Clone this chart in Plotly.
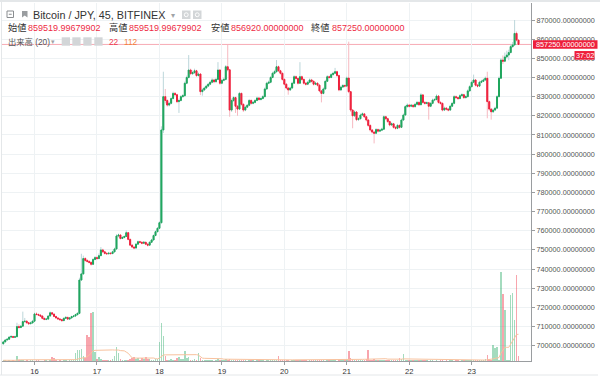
import pandas as pd
import numpy as np
import plotly.graph_objects as go

# ---------------- data ----------------
start_time = "2017-11-15 12:00"
bar_freq = "45min"
first_open_k = 701.0  # thousand JPY

close_k = [
    702.0, 703.0, 703.4, 704.5, 704.8, 704.4, 704.7, 710.0, 709.5, 710.2,
    712.6, 712.8, 712.0, 711.5, 711.9, 712.8, 716.6, 716.3, 716.0, 715.5,
    714.3, 713.8, 713.9, 715.5, 717.2, 716.5, 715.3, 714.5, 714.0, 713.6,
    713.1, 714.3, 714.8, 713.9, 714.5, 715.2, 715.5, 716.2, 716.9, 734.3,
    737.5, 745.5, 744.5, 744.0, 743.5, 742.5, 745.0, 746.0, 745.5, 747.0,
    750.0, 749.0, 748.2, 748.0, 748.3, 748.1, 749.0, 750.5, 757.3, 757.8,
    756.0, 756.5, 757.0, 759.0, 755.5, 752.5, 751.5, 751.0, 753.0, 754.3,
    754.0, 753.5, 754.0, 753.0, 752.5, 754.0, 755.2, 757.5, 759.5, 761.3,
    764.2, 812.6, 830.0, 828.0, 825.6, 826.5, 829.0, 831.7, 831.0, 827.4,
    828.0, 830.0, 830.5, 837.0, 840.0, 843.9, 842.0, 842.5, 843.5, 841.0,
    841.8, 832.6, 833.5, 834.5, 835.5, 836.5, 837.5, 838.7, 837.8, 839.0,
    843.9, 837.0, 838.5, 839.0, 845.6, 844.0, 823.0, 828.0, 829.5, 825.0,
    823.5, 831.7, 826.0, 823.0, 824.5, 825.5, 828.0, 826.5, 827.0, 828.0,
    829.3, 828.5, 829.0, 830.0, 834.0, 837.0, 837.5, 840.0, 842.2, 843.0,
    845.6, 843.5, 842.2, 839.0, 836.5, 834.5, 833.5, 834.5, 837.0, 840.4,
    839.5, 837.0, 840.4, 839.0, 837.0, 836.5, 837.5, 838.7, 838.0, 836.5,
    837.0, 836.0, 833.0, 831.7, 834.0, 838.0, 840.4, 840.0, 841.5, 842.2,
    843.0, 841.0, 833.5, 835.0, 835.8, 835.5, 839.7, 832.6, 823.0, 820.0,
    822.0, 818.0, 818.5, 820.4, 821.0, 819.5, 817.8, 815.0, 812.6, 811.5,
    810.9, 812.8, 812.0, 812.5, 813.0, 819.5, 818.5, 817.0, 815.2, 815.8,
    814.0, 813.5, 815.0, 814.0, 817.8, 820.4, 824.8, 825.6, 825.0, 825.5,
    824.8, 826.0, 827.0, 825.8, 830.9, 827.0, 826.5, 826.8, 825.0, 826.5,
    828.2, 828.5, 830.3, 827.0, 826.5, 823.0, 824.0, 823.5, 823.0, 825.0,
    826.5, 830.0, 829.5, 829.0, 830.5, 831.0, 829.5, 830.0, 833.0, 835.2,
    837.5, 838.7, 836.0, 835.5, 837.5, 838.0, 838.7, 839.6, 827.4, 823.5,
    822.1, 823.0, 824.0, 830.0, 839.6, 849.1, 848.5, 850.7, 851.7, 853.0,
    856.1, 857.0, 863.0, 859.51999679902, 857.25,
]

high_k = [
    702.6, 703.3, 703.9, 705.0, 705.6, 705.2, 705.3, 712.0, 711.2, 710.8,
    717.8, 714.5, 713.3, 712.4, 712.6, 713.5, 717.3, 717.4, 716.9, 716.4,
    715.9, 714.7, 714.5, 716.0, 717.9, 717.6, 716.8, 715.6, 714.9, 714.3,
    713.9, 714.8, 715.3, 715.1, 715.0, 715.7, 716.0, 716.7, 717.5, 735.5,
    748.0, 747.0, 746.2, 745.2, 744.6, 744.0, 745.8, 746.8, 746.6, 748.2,
    751.5, 750.6, 749.5, 748.8, 749.0, 748.9, 749.6, 751.2, 758.2, 758.5,
    758.2, 757.2, 757.6, 760.2, 759.4, 755.9, 753.0, 752.0, 753.6, 754.9,
    754.8, 754.4, 754.6, 754.3, 753.4, 754.5, 755.8, 758.1, 760.2, 761.9,
    765.0, 814.5, 843.0, 834.0, 828.6, 827.3, 829.8, 832.6, 832.4, 831.5,
    829.0, 830.8, 831.4, 837.9, 841.0, 851.7, 844.6, 843.6, 844.6, 844.0,
    842.6, 842.2, 834.3, 835.2, 836.2, 837.2, 838.3, 839.6, 839.3, 839.8,
    848.0, 844.3, 839.3, 840.0, 846.5, 857.0, 844.5, 829.0, 830.3, 830.0,
    825.6, 832.5, 832.1, 826.5, 825.3, 826.2, 828.8, 828.6, 827.8, 828.8,
    830.0, 829.9, 829.7, 830.8, 834.8, 837.8, 838.4, 840.8, 843.0, 844.0,
    849.1, 846.2, 844.0, 842.6, 839.5, 837.0, 835.0, 835.2, 837.8, 841.2,
    841.0, 840.0, 848.0, 841.0, 839.5, 837.6, 838.2, 839.5, 839.3, 838.5,
    837.8, 837.5, 836.5, 833.5, 834.8, 838.8, 841.2, 841.0, 842.3, 843.0,
    845.0, 843.5, 841.5, 835.8, 836.6, 836.4, 840.5, 858.7, 833.0, 823.5,
    822.8, 822.5, 819.3, 821.2, 821.8, 821.5, 820.0, 818.3, 815.5, 813.1,
    812.0, 813.6, 813.4, 813.2, 813.8, 820.3, 820.0, 819.0, 817.5, 816.6,
    816.3, 814.6, 815.8, 815.5, 818.6, 821.2, 825.6, 826.5, 826.1, 826.2,
    826.0, 826.8, 827.8, 827.5, 831.8, 831.3, 827.6, 827.5, 827.3, 827.2,
    829.0, 829.3, 831.2, 830.8, 827.6, 827.0, 824.8, 824.6, 824.1, 825.8,
    827.3, 830.8, 830.6, 830.0, 831.3, 831.8, 831.5, 830.8, 833.8, 836.0,
    838.4, 841.5, 839.2, 836.6, 838.3, 838.8, 839.5, 840.5, 843.0, 828.0,
    824.0, 823.8, 824.8, 830.8, 840.5, 850.0, 851.5, 853.0, 854.0, 854.5,
    857.5, 858.5, 870.0, 864.0, 859.51999679902,
]

low_k = [
    700.6, 701.8, 702.8, 703.2, 704.2, 704.0, 704.1, 704.5, 709.0, 709.2,
    710.0, 712.0, 711.5, 711.0, 711.2, 711.6, 712.5, 715.8, 715.5, 715.0,
    713.8, 713.3, 713.3, 713.7, 715.3, 716.0, 714.9, 714.1, 713.6, 713.1,
    712.7, 712.9, 714.0, 713.5, 713.6, 714.2, 714.9, 715.2, 715.9, 716.5,
    733.8, 737.0, 743.8, 743.4, 742.9, 741.8, 742.2, 744.6, 744.9, 745.2,
    746.8, 748.5, 747.6, 747.4, 747.6, 747.5, 747.8, 748.7, 750.2, 756.6,
    755.4, 755.6, 756.0, 756.8, 755.0, 752.0, 750.9, 750.4, 750.7, 752.7,
    753.4, 752.9, 753.1, 752.5, 751.8, 752.2, 753.7, 755.0, 757.2, 759.2,
    761.0, 763.8, 811.0, 826.5, 824.8, 824.9, 826.0, 828.6, 830.2, 826.6,
    821.5, 827.5, 829.4, 830.0, 836.5, 839.5, 841.2, 841.3, 842.0, 840.3,
    840.5, 830.8, 830.5, 833.0, 834.0, 835.0, 836.0, 837.0, 837.0, 837.3,
    838.6, 836.2, 836.5, 838.0, 838.5, 843.2, 819.5, 822.0, 827.2, 821.5,
    820.0, 823.0, 825.2, 822.0, 822.4, 824.0, 825.0, 825.8, 826.0, 826.5,
    827.6, 827.9, 828.0, 828.6, 829.6, 833.6, 836.5, 837.0, 839.6, 841.6,
    842.6, 842.8, 841.5, 838.3, 835.8, 833.8, 831.0, 833.0, 834.0, 836.6,
    838.8, 836.3, 836.6, 838.3, 836.3, 835.8, 836.0, 837.0, 837.3, 835.8,
    836.0, 835.3, 832.3, 827.0, 831.2, 833.6, 837.6, 839.3, 839.6, 841.0,
    841.8, 840.3, 832.8, 833.0, 834.5, 834.8, 835.0, 831.8, 822.0, 813.5,
    819.4, 817.2, 817.4, 818.0, 819.9, 818.8, 817.0, 814.2, 811.8, 810.8,
    805.6, 810.4, 811.3, 811.5, 812.0, 812.6, 817.8, 816.3, 814.5, 814.7,
    813.3, 812.8, 813.0, 813.3, 813.6, 817.4, 820.0, 824.3, 824.3, 824.5,
    824.1, 824.3, 825.5, 825.1, 825.4, 826.3, 825.8, 826.0, 818.0, 824.5,
    826.0, 827.6, 828.0, 826.3, 825.8, 822.3, 822.5, 822.8, 822.3, 822.6,
    824.6, 826.0, 828.8, 828.3, 828.6, 830.0, 828.8, 829.0, 829.6, 832.6,
    834.8, 837.0, 835.3, 834.8, 835.0, 837.0, 837.6, 838.2, 818.7, 822.6,
    818.0, 821.5, 822.5, 823.6, 829.6, 839.2, 847.0, 848.0, 850.0, 849.0,
    852.6, 855.5, 856.5, 858.8, 856.92,
]

volume = [
    3, 4, 2, 3, 2, 3, 2, 23, 5, 3,
    6, 2, 3, 2, 4, 3, 2, 5, 3, 2,
    2, 3, 4, 2, 3, 16, 12, 3, 2, 4,
    2, 3, 6, 2, 3, 5, 4, 33, 45, 48,
    51, 20, 12, 109, 100, 200, 205, 38, 10, 15,
    8, 4, 6, 3, 5, 4, 9, 22, 60, 33,
    8, 5, 4, 6, 3, 8, 12, 16, 10, 14,
    6, 11, 9, 15, 10, 7, 6, 5, 8, 10,
    78, 160, 105, 20, 6, 4, 8, 5, 6, 12,
    15, 7, 10, 43, 12, 15, 6, 5, 8, 6,
    35, 14, 4, 3, 5, 6, 3, 4, 2, 5,
    8, 3, 4, 6, 9, 5, 10, 6, 4, 5,
    3, 6, 4, 3, 5, 2, 4, 3, 5, 2,
    3, 4, 6, 3, 2, 4, 5, 3, 4, 6,
    5, 20, 5, 3, 4, 6, 3, 2, 4, 5,
    3, 4, 6, 3, 5, 4, 2, 3, 5, 4,
    6, 3, 4, 5, 3, 2, 4, 6, 5, 3,
    4, 2, 5, 4, 3, 6, 8, 40, 12, 10,
    5, 6, 4, 5, 4, 6, 8, 48, 6, 5,
    8, 4, 3, 5, 4, 6, 5, 4, 3, 5,
    4, 6, 3, 12, 8, 30, 6, 4, 5, 3,
    4, 5, 3, 6, 4, 5, 3, 4, 2, 3,
    4, 2, 3, 2, 4, 3, 2, 3, 2, 4,
    3, 2, 3, 4, 2, 3, 4, 5, 3, 4,
    6, 3, 5, 4, 3, 4, 6, 8, 25, 10,
    6, 66, 56, 60, 5, 372, 280, 215, 6, 5,
    274, 283, 171, 360, 22,
]

day_ticks = ["2017-11-16", "2017-11-17", "2017-11-18", "2017-11-19",
             "2017-11-20", "2017-11-21", "2017-11-22", "2017-11-23"]
day_labels = ["16", "17", "18", "19", "20", "21", "22", "23"]

title_text = "Bitcoin / JPY, 45, BITFINEX"
ohlc_labels = ["始値", "高値", "安値", "終値"]
ohlc_values = ["859519.99679902", "859519.99679902", "856920.00000000", "857250.00000000"]
vol_label = "出来高 (20)"
vol_last, vol_ma = "22", "112"
last_price = 857250.0
last_price_text = "857250.00000000"
countdown_text = "37:02"

# ---------------- derived ----------------
n = len(close_k)
assert len(high_k) == n and len(low_k) == n and len(volume) == n, (len(high_k), len(low_k), len(volume), n)
times = pd.date_range(start_time, periods=n, freq=bar_freq)
c = np.array(close_k) * 1000
o = np.array([first_open_k] + close_k[:-1]) * 1000
h = np.array(high_k) * 1000
l = np.array(low_k) * 1000
up = c >= o
vol_ma20 = pd.Series(volume, dtype=float).rolling(20, min_periods=1).mean()

# ---------------- style ----------------
W, H = 600, 377
ML, MR, MT, MB = 2, 69, 3, 16
PW, PH = W - ML - MR, H - MT - MB
Y_MIN, Y_MAX = 692035, 878872
V_MAX = 1496
GREEN, RED = "#1ea65c", "#ee1f3b"
WICK_UP, WICK_DN = "#bcd6da", "#f6b9c1"
VOL_UP, VOL_DN = "rgba(38,170,100,0.42)", "rgba(238,40,60,0.42)"
FONT = "Arial, Liberation Sans, Noto Sans CJK JP, sans-serif"
GRID = "#eef2f4"
AXIS = "#9a9da0"


def pxx(x):
    return (x - ML) / PW


def pxy(y):
    return (H - MB - y) / PH


def price_py(p):
    return MT + (Y_MAX - p) / (Y_MAX - Y_MIN) * PH


fig = go.Figure()

fig.add_trace(go.Bar(
    x=times, y=volume, yaxis="y",
    marker=dict(color=[VOL_UP if u else VOL_DN for u in up], line=dict(width=0)),
    width=45 * 60 * 1000 * 0.8, hoverinfo="skip", showlegend=False,
))
fig.add_trace(go.Scatter(
    x=times, y=vol_ma20, yaxis="y", mode="lines",
    line=dict(color="#f8c29e", width=1), hoverinfo="skip", showlegend=False,
))
fig.add_trace(go.Candlestick(
    x=times, open=o, high=h, low=l, close=c, yaxis="y2",
    increasing=dict(line=dict(color=WICK_UP, width=1), fillcolor=WICK_UP),
    decreasing=dict(line=dict(color=WICK_DN, width=1), fillcolor=WICK_DN),
    whiskerwidth=0, hoverinfo="skip", showlegend=False,
))
fig.add_trace(go.Candlestick(
    x=times, open=o, high=np.maximum(o, c), low=np.minimum(o, c), close=c, yaxis="y2",
    increasing=dict(line=dict(color=GREEN, width=1), fillcolor=GREEN),
    decreasing=dict(line=dict(color=RED, width=1), fillcolor=RED),
    whiskerwidth=0, hoverinfo="skip", showlegend=False,
))

shapes = []
annotations = []

# last price line
shapes.append(dict(type="line", xref="paper", yref="y2", x0=0, x1=1,
                   y0=last_price, y1=last_price, layer="below",
                   line=dict(color="#f7aab4", width=1)))

# frame lines
shapes.append(dict(type="line", xref="paper", yref="paper", x0=pxx(0), x1=pxx(600),
                   y0=pxy(1), y1=pxy(1), line=dict(color="#e4e7e9", width=2)))
shapes.append(dict(type="line", xref="paper", yref="paper", x0=pxx(1.5), x1=pxx(1.5),
                   y0=pxy(0), y1=pxy(375), line=dict(color="#e4e7e9", width=1)))
shapes.append(dict(type="line", xref="paper", yref="paper", x0=pxx(0), x1=pxx(598),
                   y0=pxy(375), y1=pxy(375), line=dict(color="#e4e7e9", width=1)))

# price label boxes
cy = price_py(last_price)
shapes.append(dict(type="rect", xref="paper", yref="paper", x0=pxx(533), x1=pxx(597.5),
                   y0=pxy(cy - 4.2), y1=pxy(cy + 4.2), fillcolor=RED, line=dict(width=0),
                   layer="above"))
annotations.append(dict(xref="paper", yref="paper", x=pxx(565.2), y=pxy(cy), text=last_price_text,
                        showarrow=False, xanchor="center", yanchor="middle",
                        font=dict(family=FONT, size=7.3, color="white"), borderpad=0))
shapes.append(dict(type="rect", xref="paper", yref="paper", x0=pxx(574.5), x1=pxx(594.5),
                   y0=pxy(cy + 6.6), y1=pxy(cy + 15.2), fillcolor=RED, line=dict(width=0),
                   layer="above"))
annotations.append(dict(xref="paper", yref="paper", x=pxx(584.5), y=pxy(cy + 10.9), text=countdown_text,
                        showarrow=False, xanchor="center", yanchor="middle",
                        font=dict(family=FONT, size=7.3, color="white"), borderpad=0))

# header row 1
shapes.append(dict(type="rect", xref="paper", yref="paper", x0=pxx(7), x1=pxx(13.5),
                   y0=pxy(11), y1=pxy(17.5), line=dict(color="#8a8d90", width=1)))
shapes.append(dict(type="line", xref="paper", yref="paper", x0=pxx(8.8), x1=pxx(11.7),
                   y0=pxy(14.25), y1=pxy(14.25), line=dict(color="#8a8d90", width=1)))
shapes.append(dict(type="path", xref="paper", yref="paper",
                   path=f"M {pxx(22)},{pxy(11)} L {pxx(27.5)},{pxy(11)} L {pxx(27.5)},{pxy(17.5)} "
                        f"L {pxx(24.7)},{pxy(15.5)} L {pxx(22)},{pxy(17.5)} Z",
                   fillcolor="#9a9da0", line=dict(width=0)))
annotations.append(dict(xref="paper", yref="paper", x=pxx(31.5), y=pxy(15), text=title_text,
                        showarrow=False, xanchor="left", yanchor="middle", borderpad=0,
                        font=dict(family=FONT, size=10.8, color="#333333")))
annotations.append(dict(xref="paper", yref="paper", x=pxx(170), y=pxy(15.5), text="▾",
                        showarrow=False, xanchor="left", yanchor="middle", borderpad=0,
                        font=dict(family=FONT, size=8, color="#a0a3a6")))
for x0 in (182, 193):
    shapes.append(dict(type="rect", xref="paper", yref="paper", x0=pxx(x0), x1=pxx(x0 + 8.5),
                       y0=pxy(10.5), y1=pxy(19), fillcolor="#d3d6d8", line=dict(width=0)))
    shapes.append(dict(type="circle", xref="paper", yref="paper", x0=pxx(x0 + 2.3), x1=pxx(x0 + 6.2),
                       y0=pxy(12.8), y1=pxy(16.7), line=dict(color="white", width=1)))

# header row 2
label_x = [6.7, 108.3, 210.0, 310.0]
value_x = [27.3, 128.3, 229.7, 330.7]
for lab, val, lx, vx in zip(ohlc_labels, ohlc_values, label_x, value_x):
    annotations.append(dict(xref="paper", yref="paper", x=pxx(lx), y=pxy(27.5), text=lab,
                            showarrow=False, xanchor="left", yanchor="middle", borderpad=0,
                            font=dict(family=FONT, size=9.2, color="#333333")))
    annotations.append(dict(xref="paper", yref="paper", x=pxx(vx), y=pxy(27.5), text=val,
                            showarrow=False, xanchor="left", yanchor="middle", borderpad=0,
                            font=dict(family=FONT, size=9, color="#ee2a44")))

# header row 3
annotations.append(dict(xref="paper", yref="paper", x=pxx(6.7), y=pxy(41.7), text=vol_label,
                        showarrow=False, xanchor="left", yanchor="middle", borderpad=0,
                        font=dict(family=FONT, size=8.3, color="#555555")))
annotations.append(dict(xref="paper", yref="paper", x=pxx(50), y=pxy(42), text="▾",
                        showarrow=False, xanchor="left", yanchor="middle", borderpad=0,
                        font=dict(family=FONT, size=7, color="#a0a3a6")))
for x0 in (61.7, 72.3, 83.3, 94.3):
    shapes.append(dict(type="rect", xref="paper", yref="paper", x0=pxx(x0), x1=pxx(x0 + 8.3),
                       y0=pxy(37.3), y1=pxy(45.7), fillcolor="#d3d6d8", line=dict(width=0)))
annotations.append(dict(xref="paper", yref="paper", x=pxx(108.3), y=pxy(41.7), text=vol_last,
                        showarrow=False, xanchor="left", yanchor="middle", borderpad=0,
                        font=dict(family=FONT, size=8.3, color="#ee3a50")))
annotations.append(dict(xref="paper", yref="paper", x=pxx(123.3), y=pxy(41.7), text=vol_ma,
                        showarrow=False, xanchor="left", yanchor="middle", borderpad=0,
                        font=dict(family=FONT, size=8.3, color="#f2813b")))

x_start = times[0] - pd.Timedelta(minutes=30)
x_end = x_start + pd.Timedelta(hours=PW / 62.45 * 24)

fig.update_layout(
    width=W, height=H,
    margin=dict(l=ML, r=MR, t=MT, b=MB, pad=0),
    paper_bgcolor="white", plot_bgcolor="white",
    showlegend=False, hovermode=False, bargap=0,
    font=dict(family=FONT, size=7.3, color="#555555"),
    xaxis=dict(
        type="date", range=[x_start, x_end], rangeslider=dict(visible=False),
        tickvals=day_ticks, ticktext=day_labels,
        showgrid=True, gridcolor=GRID, gridwidth=1, zeroline=False,
        showline=True, linecolor=AXIS, linewidth=1,
        ticks="outside", ticklen=3, tickcolor=AXIS,
        tickfont=dict(family=FONT, size=7.6, color="#333333"),
    ),
    yaxis=dict(range=[0, V_MAX], visible=False, showgrid=False, zeroline=False, fixedrange=True),
    yaxis2=dict(
        overlaying="y", side="right", range=[Y_MIN, Y_MAX],
        tick0=0, dtick=10000, tickformat=".8f",
        showgrid=True, gridcolor=GRID, gridwidth=1, zeroline=False,
        showline=True, linecolor=AXIS, linewidth=1,
        ticks="outside", ticklen=3, tickcolor=AXIS,
        tickfont=dict(family=FONT, size=7.25, color="#555555"),
    ),
    shapes=shapes,
    annotations=annotations,
)

fig.write_html(
    "out.html",
    config={"displayModeBar": False, "staticPlot": True},
    post_script="document.body.style.margin='0px';document.body.style.padding='0px';",
)
